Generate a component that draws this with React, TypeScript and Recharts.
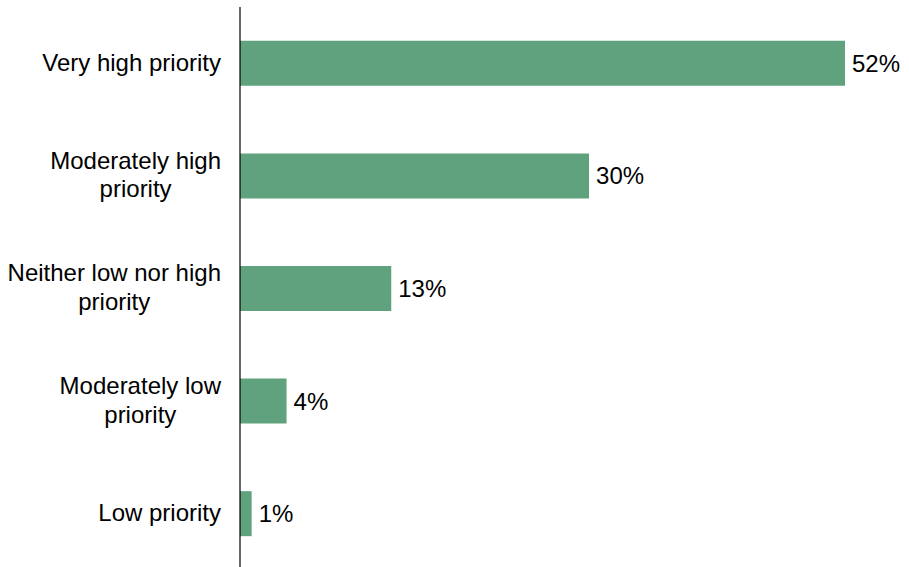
import React from 'react'
import { BarChart, Bar, XAxis, YAxis, LabelList } from 'recharts'

const categories = [
  'Very high priority',
  'Moderately high priority',
  'Neither low nor high priority',
  'Moderately low priority',
  'Low priority',
]
const shares = [52, 30, 13, 4, 1]

const FONT = '"Liberation Sans", Arial, sans-serif'
const FONT_SIZE = 24
const LINE_HEIGHT = 28.5
const BAR_COLOR = '#5FA27D'

const data = categories.map((name, i) => ({ name, value: shares[i] }))

let ctx: CanvasRenderingContext2D | null = null
const measure = (s: string) => {
  if (!ctx) {
    ctx = document.createElement('canvas').getContext('2d')
    if (ctx) ctx.font = `${FONT_SIZE}px "Liberation Sans"`
  }
  return ctx ? ctx.measureText(s).width : s.length * FONT_SIZE * 0.5
}

const wrap = (text: string, maxWidth: number) => {
  const words = text.split(' ')
  const lines: string[] = []
  let cur = ''
  words.forEach(w => {
    const next = cur ? cur + ' ' + w : w
    if (cur && measure(next) > maxWidth) {
      lines.push(cur)
      cur = w
    } else {
      cur = next
    }
  })
  if (cur) lines.push(cur)
  return lines
}

const CategoryTick = ({ x, y, payload }: any) => {
  const lines = wrap(payload.value, 220)
  const maxW = Math.max(...lines.map(measure))
  const cx = x - maxW / 2
  const first = y - ((lines.length - 1) * LINE_HEIGHT) / 2 + FONT_SIZE * 0.3
  return (
    <text x={cx} y={first} textAnchor="middle" fontSize={FONT_SIZE} fontFamily={FONT} fill="#000">
      {lines.map((l, i) => (
        <tspan key={i} x={cx} y={first + i * LINE_HEIGHT}>
          {l}
        </tspan>
      ))}
    </text>
  )
}

export default function App() {
  return (
    <div style={{ position: 'fixed', left: 0, top: 0, width: 909, height: 567, overflow: 'hidden', background: '#fff' }}>
      <BarChart
        width={909}
        height={575}
        data={data}
        layout="vertical"
        margin={{ top: 7, right: 64, left: 0, bottom: 5 }}
        barCategoryGap="30%"
      >
        <XAxis type="number" domain={[0, 52]} hide />
        <YAxis
          type="category"
          dataKey="name"
          width={240}
          tickLine={false}
          tickSize={0}
          tickMargin={19}
          axisLine={{ stroke: '#000', strokeWidth: 1.2 }}
          tick={<CategoryTick />}
          interval={0}
        />
        <Bar dataKey="value" fill={BAR_COLOR} isAnimationActive={false}>
          <LabelList
            dataKey="value"
            position="right"
            offset={7}
            formatter={(v: any) => `${v}%`}
            style={{ fontSize: FONT_SIZE, fontFamily: FONT, fill: '#000' }}
          />
        </Bar>
      </BarChart>
    </div>
  )
}
